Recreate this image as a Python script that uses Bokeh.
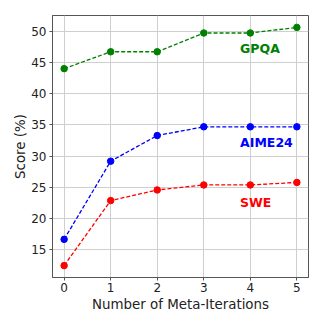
from bokeh.plotting import figure
from bokeh.models import Range1d, FixedTicker
from bokeh.embed import file_html
from bokeh.resources import INLINE
from bokeh.core.properties import value

iterations = [0, 1, 2, 3, 4, 5]
gpqa = [44.0, 46.7, 46.7, 49.7, 49.7, 50.6]
aime24 = [16.7, 29.2, 33.3, 34.7, 34.7, 34.7]
swe = [12.5, 22.9, 24.6, 25.4, 25.4, 25.8]
series_names = ["GPQA", "AIME24", "SWE"]
series_colors = ["green", "blue", "red"]
label_x = [3.78, 3.78, 3.78]
label_y = [47.2, 32.2, 22.6]
y_ticks = [15, 20, 25, 30, 35, 40, 45, 50]

p = figure(width=316, height=316, output_backend="svg", toolbar_location=None,
           x_range=Range1d(-0.25, 5.25), y_range=Range1d(10.6, 52.5),
           min_border_left=52, min_border_right=8, min_border_top=15, min_border_bottom=39)

font = "DejaVu Sans"
for ax in (p.xaxis[0], p.yaxis[0]):
    ax.major_label_text_font = font
    ax.major_label_text_font_size = "12px"
    ax.major_label_text_color = "#222222"
    ax.axis_label_text_font = font
    ax.axis_label_text_font_size = "13.4px"
    ax.axis_label_text_font_style = "normal"
    ax.axis_label_text_color = "#222222"
    ax.minor_tick_line_color = None
    ax.major_tick_out = 3
    ax.major_tick_in = 0
    ax.axis_line_color = "#555555"
    ax.major_tick_line_color = "#555555"

p.xaxis.ticker = FixedTicker(ticks=iterations)
p.yaxis.ticker = FixedTicker(ticks=y_ticks)
p.xaxis.axis_label = "Number of Meta-Iterations"
p.yaxis.axis_label = "Score (%)"
p.xaxis.axis_label_standoff = 2
p.yaxis.axis_label_standoff = 0
p.xaxis.major_label_standoff = 2
p.yaxis.major_label_standoff = 3

p.grid.grid_line_color = "#cfcfcf"
p.grid.grid_line_width = 1
p.outline_line_color = "#555555"
p.outline_line_width = 1
p.background_fill_color = "white"
p.border_fill_color = "white"

for ys, name, c, lx, ly in zip([gpqa, aime24, swe], series_names, series_colors, label_x, label_y):
    p.line(iterations, ys, line_color=c, line_dash="4 2", line_width=1.3)
    p.scatter(iterations, ys, size=6.5, fill_color=c, line_color=c)
    p.text(x=[lx], y=[ly], text=[name], text_color=c, text_font=value(font),
           text_font_size="12.5px", text_font_style="bold",
           text_align="left", text_baseline="middle")

open("out.html", "w").write(file_html(p, INLINE))
